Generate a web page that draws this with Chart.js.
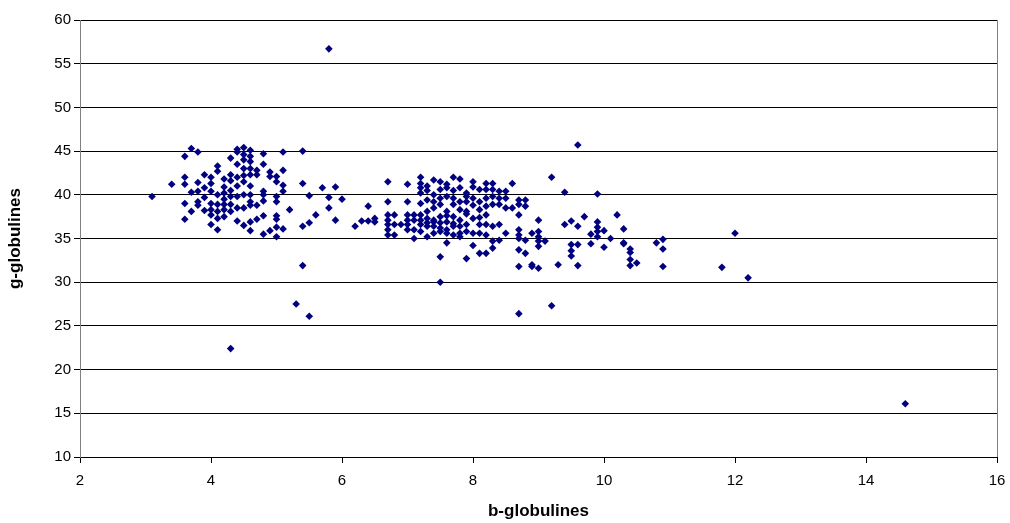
<!DOCTYPE html>
<html>
<head>
<meta charset="utf-8">
<script src="https://cdn.jsdelivr.net/npm/chart.js@4"></script>
<style>
  body { margin: 0; background: #fff; }
  #wrap { width: 1010px; height: 523px; }
</style>
</head>
<body>
<div id="wrap"><canvas id="myChart"></canvas></div>
<script>
// b-globulines (x) and g-globulines (y)
const bGlob = [
  3.1, 3.4, 3.6, 3.7, 3.8, 3.6, 3.6, 3.8, 3.9, 3.6, 3.7, 3.8, 3.7, 3.6, 3.8,
  4.0, 4.1, 4.1, 4.2, 4.2, 4.3, 4.4, 4.5, 4.4, 3.9, 4.0, 4.0, 3.9, 4.0, 4.1,
  4.1, 4.2, 4.2, 4.3, 4.0, 4.1, 4.2, 4.1, 4.4, 4.5, 4.3, 4.2, 4.3, 4.3, 4.4,
  4.4, 4.5, 4.5, 4.5, 4.5, 4.4, 4.5, 4.3, 4.4, 3.8, 4.0,
  4.4, 4.5, 4.5, 4.3, 4.6, 4.2, 4.0, 4.1, 3.9,
  4.6, 4.6, 4.6, 4.6, 4.6, 4.6, 4.6, 4.6, 4.6, 4.6,
  4.7, 4.7, 4.7, 4.7,
  4.8, 4.8, 4.8, 4.8, 4.8, 4.8, 4.8,
  4.9, 4.9, 4.9,
  5.0, 5.0, 5.0, 5.0, 5.0, 5.0, 5.0, 5.0,
  5.1, 5.1, 5.1, 5.1, 5.1,
  5.2, 5.4, 5.4, 5.4, 5.4, 5.5, 5.5, 5.5, 5.3, 5.6, 5.7, 5.8, 5.8, 5.8,
  5.9, 5.9, 6.0, 6.2, 6.3, 6.4, 6.4, 6.5, 6.5, 4.3,
  6.7, 6.7, 6.7, 6.7, 6.7, 6.7, 6.7,
  6.8, 6.8, 6.8, 6.9,
  7.0, 7.0, 7.0, 7.0, 7.0, 7.0,
  7.1, 7.1, 7.1, 7.1,
  7.2, 7.2, 7.2, 7.2, 7.2, 7.2, 7.2, 7.2,
  7.3, 7.3, 7.3, 7.3, 7.3, 7.3,
  7.4, 7.4, 7.4, 7.4, 7.4, 7.4, 7.4,
  7.5, 7.5, 7.5, 7.5, 7.5, 7.5, 7.5, 7.5, 7.5,
  7.6, 7.6, 7.6, 7.6, 7.6, 7.6,
  7.7, 7.7, 7.7, 7.7, 7.7, 7.7,
  7.8, 7.8, 7.8, 7.8, 7.8, 7.8,
  7.9, 7.9, 7.9, 7.9, 7.9, 7.9,
  8.0, 8.0, 8.0, 8.0, 8.0,
  8.1, 8.1, 8.1, 8.1, 8.1, 8.1,
  7.6, 7.7, 7.8, 7.4, 7.5, 7.9, 8.0, 8.1, 7.3, 7.6, 7.7, 7.9, 8.0, 7.2, 7.3, 7.6, 7.8,
  8.2, 8.2, 8.2, 8.2, 8.2, 8.2, 8.2, 8.2,
  8.3, 8.3, 8.3, 8.3, 8.3, 8.3, 8.3,
  8.4, 8.4, 8.4, 8.4, 8.4,
  8.5, 8.5, 8.5, 8.5,
  8.6, 8.6,
  8.7, 8.7, 8.7, 8.7, 8.7, 8.7, 8.7, 8.7, 8.7,
  8.8, 8.8, 8.8, 8.8,
  8.9, 8.9, 8.9,
  9.0, 9.0, 9.0, 9.0, 9.0, 9.0,
  9.1, 9.2, 9.2, 9.3, 9.4, 9.4,
  9.5, 9.5, 9.5, 9.5,
  9.6, 9.6, 9.6, 9.6,
  9.7, 9.8, 9.8,
  9.9, 9.9, 9.9, 9.9, 9.9,
  10.0, 10.0, 10.1, 10.2, 10.3, 10.3, 10.3,
  10.4, 10.4, 10.4, 10.4, 10.5,
  10.8, 10.9, 10.9, 10.9,
  11.8, 12.0, 12.2, 14.6
];
const gGlob = [
  39.8, 41.2, 44.4, 45.3, 44.9, 42.0, 41.2, 41.4, 42.3, 39.0, 40.3, 40.4, 38.1, 37.2, 39.2,
  41.3, 43.3, 42.7, 41.8, 40.9, 41.6, 44.9, 45.4, 43.5, 39.7, 40.4, 39.0, 38.2, 37.7, 38.9,
  38.1, 38.9, 38.3, 38.1, 36.6, 36.0, 37.5, 37.3, 39.8, 40.0, 39.8, 40.2, 42.3, 44.2, 42.0,
  41.0, 44.0, 43.0, 42.2, 38.5, 37.0, 36.5, 38.9, 38.5, 38.8, 38.3,
  45.2, 44.6, 41.5, 40.5, 39.2, 39.5, 42.0, 40.0, 40.8,
  45.1, 44.4, 43.8, 43.0, 42.3, 41.0, 40.0, 38.8, 36.9, 35.9,
  42.8, 42.3, 38.8, 37.2,
  44.7, 43.5, 40.4, 40.0, 39.3, 37.6, 35.5,
  42.6, 42.1, 35.9,
  42.1, 41.5, 39.8, 39.2, 37.6, 37.2, 36.3, 35.2,
  44.9, 42.8, 41.1, 40.4, 36.1,
  38.3, 45.0, 41.3, 36.4, 31.9, 39.9, 36.8, 26.1, 27.5, 37.7, 40.8, 39.7, 38.5, 56.7,
  40.9, 37.1, 39.5, 36.4, 37.0, 37.0, 38.7, 37.3, 36.9, 22.4,
  41.5, 39.2, 37.7, 37.1, 36.6, 36.0, 35.4,
  37.7, 36.6, 35.4, 36.6,
  41.2, 39.2, 37.7, 37.1, 36.6, 36.0,
  37.7, 37.1, 36.0, 35.0,
  42.0, 41.3, 40.8, 40.2, 37.7, 37.1, 36.6, 35.8,
  41.0, 39.4, 38.1, 37.3, 36.4, 35.2,
  41.7, 40.0, 39.2, 38.5, 37.1, 36.4, 35.6,
  41.5, 40.6, 39.6, 38.9, 37.5, 36.8, 35.8, 32.9, 30.0,
  40.8, 39.8, 38.1, 36.9, 36.0, 34.5,
  42.0, 39.6, 38.9, 37.5, 36.4, 35.4,
  40.8, 39.2, 38.3, 37.1, 36.4, 35.6,
  40.2, 39.2, 38.1, 36.6, 35.8, 32.7,
  41.5, 39.6, 37.3, 35.6, 34.2,
  40.6, 39.2, 38.3, 36.6, 35.6, 33.3,
  37.6, 40.5, 41.8, 36.9, 36.2, 37.8, 38.8, 37.4, 40.5, 41.2, 36.7, 39.8, 40.9, 39.0, 36.8, 35.6, 35.2,
  41.3, 40.6, 39.6, 38.7, 37.7, 36.6, 35.4, 33.3,
  41.3, 40.6, 39.8, 38.9, 36.4, 34.7, 33.9,
  40.4, 39.6, 38.9, 36.6, 34.8,
  40.4, 39.6, 38.5, 35.6,
  41.3, 38.5,
  39.4, 38.9, 37.7, 36.0, 35.4, 35.0, 33.7, 31.8, 26.4,
  39.4, 38.7, 34.8, 33.3,
  35.6, 32.0, 31.8,
  37.1, 35.8, 35.2, 34.7, 34.1, 31.6,
  34.7, 42.0, 27.3, 32.0, 40.3, 36.6,
  37.0, 34.3, 33.6, 33.0,
  45.7, 36.4, 34.3, 31.9,
  37.5, 35.5, 34.4,
  40.1, 36.9, 36.3, 35.8, 35.2,
  35.9, 34.0, 35.0, 37.7, 36.1, 34.5, 34.4,
  33.8, 33.4, 32.6, 31.9, 32.2,
  34.5, 34.9, 33.8, 31.8,
  31.7, 35.6, 30.5, 16.1
];
const xTicks = [2, 4, 6, 8, 10, 12, 14, 16];
const yTicks = [10, 15, 20, 25, 30, 35, 40, 45, 50, 55, 60];

const points = bGlob.map((b, i) => ({ x: b, y: gGlob[i] }));
const fontFamily = '"Liberation Sans", Arial, sans-serif';

// right edge of the plot frame
const frame = {
  id: 'frame',
  beforeDatasetsDraw(chart) {
    const a = chart.chartArea;
    const c = chart.ctx;
    c.save();
    c.strokeStyle = '#808080';
    c.lineWidth = 1;
    c.beginPath();
    c.moveTo(Math.round(a.right) + 0.5, a.top);
    c.lineTo(Math.round(a.right) + 0.5, a.bottom);
    c.stroke();
    c.restore();
  }
};

const ctx = document.getElementById('myChart');
new Chart(ctx, {
  type: 'scatter',
  data: {
    datasets: [{
      label: 'g-globulines',
      data: points,
      pointStyle: 'rectRot',
      pointRadius: 3.8,
      pointBackgroundColor: '#000080',
      pointBorderColor: '#000080',
      pointBorderWidth: 0
    }]
  },
  options: {
    responsive: true,
    maintainAspectRatio: false,
    animation: false,
    layout: { padding: { top: 20, right: 13, left: 0, bottom: 0 } },
    plugins: {
      legend: { display: false },
      tooltip: { enabled: false }
    },
    scales: {
      x: {
        type: 'linear',
        min: 2,
        max: 16,
        afterBuildTicks: (axis) => { axis.ticks = xTicks.map(v => ({ value: v })); },
        afterFit: (axis) => { axis.height = 66; axis.paddingLeft = 0; axis.paddingRight = 0; },
        grid: { drawOnChartArea: false, drawTicks: true, tickLength: 6, color: '#000' },
        border: { color: '#000' },
        ticks: { color: '#000', font: { family: fontFamily, size: 15 }, padding: 9 },
        title: {
          display: true,
          text: 'b-globulines',
          color: '#000',
          font: { family: fontFamily, size: 17, weight: 'bold' },
          padding: { top: 4, bottom: 1 }
        }
      },
      y: {
        type: 'linear',
        min: 10,
        max: 60,
        afterBuildTicks: (axis) => { axis.ticks = yTicks.map(v => ({ value: v })); },
        afterFit: (axis) => { axis.width = 80; },
        grid: { color: '#000', tickLength: 6 },
        border: { color: '#808080' },
        ticks: { color: '#000', font: { family: fontFamily, size: 15 }, padding: 3 },
        title: {
          display: true,
          text: 'g-globulines',
          color: '#000',
          font: { family: fontFamily, size: 17, weight: 'bold' },
          padding: { top: 5, bottom: 4 }
        }
      }
    }
  },
  plugins: [frame]
});
</script>
</body>
</html>
